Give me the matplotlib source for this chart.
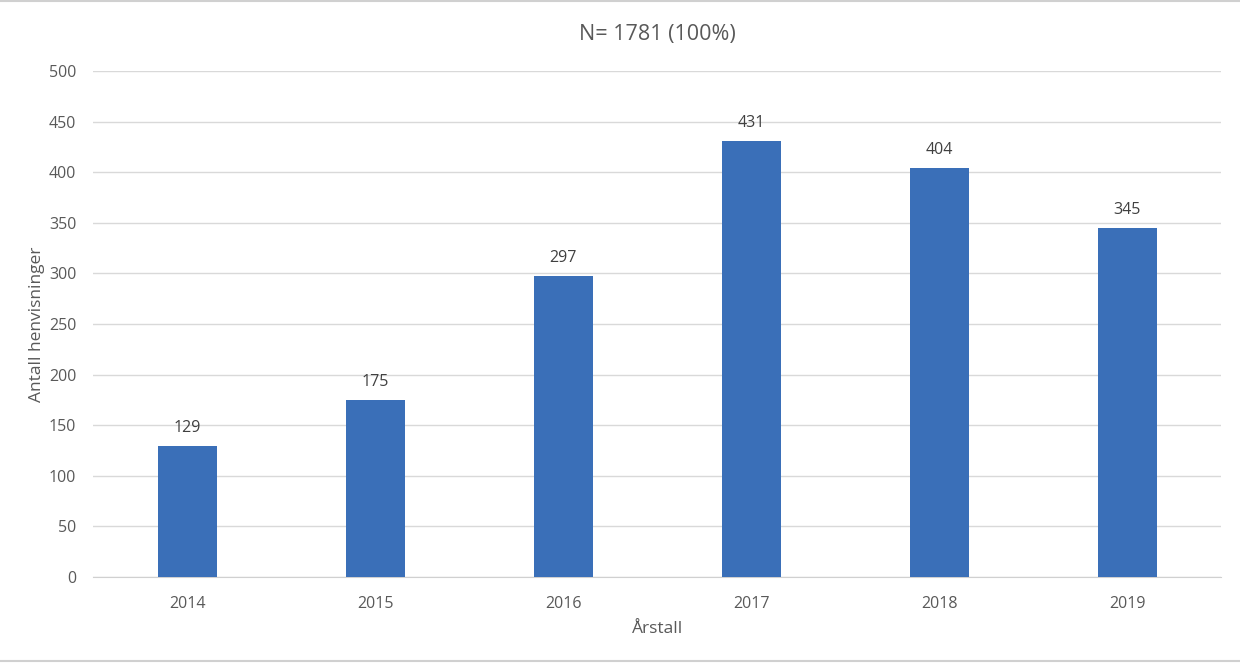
import matplotlib.pyplot as plt
from matplotlib.lines import Line2D

years = ["2014", "2015", "2016", "2017", "2018", "2019"]
counts = [129, 175, 297, 431, 404, 345]
yticks = [0, 50, 100, 150, 200, 250, 300, 350, 400, 450, 500]

plt.rcParams['font.family'] = ['Open Sans', 'DejaVu Sans']
grey = '#595959'

fig = plt.figure(figsize=(12.4, 6.64), dpi=100)
ax = fig.add_axes([0.075, 0.131, 0.91, 0.762])

x = range(len(years))
bars = ax.bar(x, counts, width=0.314, color='#3A6FB8', zorder=3)
for xi, v in zip(x, counts):
    ax.text(xi, v + 10, str(v), ha='center', va='bottom', fontsize=11.5, color='#404040')

ax.set_xlim(-0.5, len(years) - 0.5)
ax.set_ylim(0, 500)
ax.set_yticks(yticks)
ax.set_xticks(list(x))
ax.set_xticklabels(years)
ax.tick_params(length=0, labelsize=11.5, labelcolor=grey)
ax.tick_params(axis='x', pad=14)
ax.tick_params(axis='y', pad=12)
ax.yaxis.grid(True, color='#d9d9d9', linewidth=1, zorder=0)
for s in ['top', 'right', 'left']:
    ax.spines[s].set_visible(False)
ax.spines['bottom'].set_color('#d0d0d0')

ax.set_title('N= 1781 (100%)', fontsize=15.5, color=grey, pad=22)
ax.set_xlabel('Årstall', fontsize=12.5, color=grey, labelpad=6)
ax.set_ylabel('Antall henvisninger', fontsize=12.5, color=grey, labelpad=3)

# thin frame lines at top and bottom of the image
fig.add_artist(Line2D([0, 1], [0.998, 0.998], color='#d0d0d0', lw=1.5, transform=fig.transFigure))
fig.add_artist(Line2D([0, 1], [0.004, 0.004], color='#d0d0d0', lw=1.5, transform=fig.transFigure))

fig.savefig('out.png', dpi=100)
